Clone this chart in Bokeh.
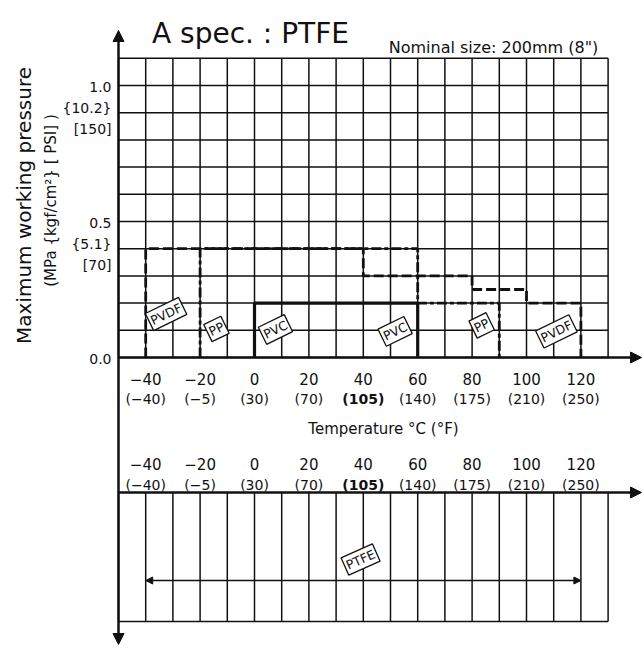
import math
from bokeh.plotting import figure
from bokeh.models import Range1d, Arrow, NormalHead
from bokeh.core.properties import value
from bokeh.embed import file_html
from bokeh.resources import INLINE

# ---------------- data ----------------
temps_c = [-40, -20, 0, 20, 40, 60, 80, 100, 120]
temps_c_labels = ["−40", "−20", "0", "20", "40", "60", "80", "100", "120"]
temps_f_labels = ["(−40)", "(−5)", "(30)", "(70)", "(105)", "(140)", "(175)", "(210)", "(250)"]
bold_f_label = "(105)"
grid_temps = [-50, -40, -30, -20, -10, 0, 10, 20, 30, 40, 50, 60, 70, 80, 90, 100, 110, 120, 130]
grid_press = [0.0, 0.1, 0.2, 0.3, 0.4, 0.5, 0.6, 0.7, 0.8, 0.9, 1.0, 1.1]
press_ticks = [0.0, 0.5, 1.0]
mpa_labels = ["0.0", "0.5", "1.0"]
kgf_labels = ["", "{5.1}", "{10.2}"]
psi_labels = ["", "[70]", "[150]"]

# step limits: breakpoints (°C) and max pressure (MPa) in each interval
pvdf_temps = [-40, 40, 80, 100, 120]
pvdf_press = [0.4, 0.3, 0.25, 0.2]
pp_temps = [-20, 60, 90]
pp_press = [0.4, 0.2]
pvc_temps = [0, 60]
pvc_press = [0.2]
ptfe_temps = [-40, 120]

mat_labels = ["PVDF", "PP", "PVC", "PVC", "PP", "PVDF"]

# ---------------- layout helpers ----------------
W, H = 644, 648
SX = 2.72      # px per °C
SY = 272.0     # px per MPa
X0 = -50 - 118 / SX
X1 = X0 + W / SX
Y1 = 357 / SY
Y0 = Y1 - H / SY


def py(page_y):
    return Y1 - page_y / SY


def pxx(page_x):
    return X0 + page_x / SX


FONT = value("DejaVu Sans")
BLACK = "#111111"

p = figure(width=W, height=H, x_range=Range1d(X0, X1), y_range=Range1d(Y0, Y1),
           x_axis_type=None, y_axis_type=None, output_backend="svg",
           toolbar_location=None, min_border=0)
p.outline_line_color = None
p.background_fill_color = "white"

# ---------------- top grid ----------------
gx0, gx1 = grid_temps[0], grid_temps[-1]
gy0, gy1 = grid_press[0], grid_press[-1]
p.segment(x0=grid_temps, y0=[gy0] * len(grid_temps), x1=grid_temps, y1=[gy1] * len(grid_temps),
          line_color=BLACK, line_width=1.5)
p.segment(x0=[gx0] * len(grid_press), y0=grid_press, x1=[gx1] * len(grid_press), y1=grid_press,
          line_color=BLACK, line_width=1.5)

# ---------------- bottom (PTFE) panel ----------------
panel_top = py(492)
panel_bot = py(621)
p.segment(x0=grid_temps, y0=[panel_bot] * len(grid_temps), x1=grid_temps, y1=[panel_top] * len(grid_temps),
          line_color=BLACK, line_width=1.5)
p.segment(x0=[gx0], y0=[panel_bot], x1=[gx1], y1=[panel_bot], line_color=BLACK, line_width=1.5)


# ---------------- series ----------------
def step_path(temps, press):
    xs, ys = [temps[0]], [0.0]
    for i, pv in enumerate(press):
        xs += [temps[i], temps[i + 1]]
        ys += [pv, pv]
    xs.append(temps[-1])
    ys.append(0.0)
    return xs, ys


x, y = step_path(pvc_temps, pvc_press)
p.line(x, y, line_color=BLACK, line_width=3.2)
x, y = step_path(pp_temps, pp_press)
p.line(x, y, line_color=BLACK, line_width=2.8, line_dash="10 3 4 3")
x, y = step_path(pvdf_temps, pvdf_press)
p.line(x, y, line_color=BLACK, line_width=2.8, line_dash="10 4")

# ---------------- axes ----------------
x_tip = pxx(641)
p.add_layout(Arrow(x_start=gx0, y_start=py(644), x_end=gx0, y_end=py(30),
                   start=NormalHead(size=11, fill_color=BLACK, line_color=BLACK),
                   end=NormalHead(size=11, fill_color=BLACK, line_color=BLACK),
                   line_color=BLACK, line_width=2.5))
p.add_layout(Arrow(x_start=gx0, y_start=0, x_end=x_tip, y_end=0,
                   end=NormalHead(size=11, fill_color=BLACK, line_color=BLACK),
                   line_color=BLACK, line_width=2.5))
p.add_layout(Arrow(x_start=gx0, y_start=panel_top, x_end=x_tip, y_end=panel_top,
                   end=NormalHead(size=11, fill_color=BLACK, line_color=BLACK),
                   line_color=BLACK, line_width=2.5))

# PTFE range arrow
ptfe_y = py(580)
p.add_layout(Arrow(x_start=ptfe_temps[0], y_start=ptfe_y, x_end=ptfe_temps[1], y_end=ptfe_y,
                   start=NormalHead(size=7, fill_color=BLACK, line_color=BLACK),
                   end=NormalHead(size=7, fill_color=BLACK, line_color=BLACK),
                   line_color=BLACK, line_width=1.5))

# ---------------- material labels ----------------
lab_x = [-32.5, -14, 7.7, 51.7, 83.5, 111]
lab_y = [0.16, 0.105, 0.103, 0.096, 0.118, 0.096]
ang = math.radians(26)
p.text(x=lab_x, y=lab_y, text=mat_labels, angle=ang, text_font=FONT, text_font_size="12.5px",
       text_align="center", text_baseline="middle", text_color=BLACK,
       border_line_color=BLACK, border_line_width=1.3, background_fill_color="white", padding=2)
p.text(x=[(ptfe_temps[0] + ptfe_temps[1]) / 2 - 1], y=[py(559)], text=["PTFE"], angle=math.radians(24),
       text_font=FONT, text_font_size="12.5px", text_align="center", text_baseline="middle",
       text_color=BLACK, border_line_color=BLACK, border_line_width=1.3,
       background_fill_color="white", padding=2)


# ---------------- tick labels ----------------
def temp_rows(base1, base2):
    p.text(x=temps_c, y=[py(base1)] * len(temps_c), text=temps_c_labels, text_font=FONT,
           text_font_size="15px", text_align="center", text_baseline="alphabetic", text_color=BLACK)
    normal = [(t, s) for t, s in zip(temps_c, temps_f_labels) if s != bold_f_label]
    bold = [(t, s) for t, s in zip(temps_c, temps_f_labels) if s == bold_f_label]
    p.text(x=[t for t, _ in normal], y=[py(base2)] * len(normal), text=[s for _, s in normal],
           text_font=FONT, text_font_size="14px", text_align="center", text_baseline="alphabetic",
           text_color=BLACK)
    p.text(x=[t for t, _ in bold], y=[py(base2)] * len(bold), text=[s for _, s in bold],
           text_font=FONT, text_font_size="14px", text_font_style="bold", text_align="center",
           text_baseline="alphabetic", text_color=BLACK)


temp_rows(378, 398)
temp_rows(463, 484)

p.text(x=[pxx(383)], y=[py(428)], text=["Temperature °C (°F)"], text_font=FONT, text_font_size="15px",
       text_align="center", text_baseline="alphabetic", text_color=BLACK)

# y tick labels (three unit rows)
ylab_x = pxx(111)
for rows, dy in ((mpa_labels, 0), (kgf_labels, 21), (psi_labels, 42)):
    ys, ts = [], []
    for v, t in zip(press_ticks, rows):
        if t:
            ys.append(v - (dy + 1) / SY)
            ts.append(t)
    p.text(x=[ylab_x] * len(ts), y=ys, text=ts, text_font=FONT, text_font_size="14px",
           text_align="right", text_baseline="middle", text_color=BLACK)

# y axis title
p.text(x=[pxx(23)], y=[py(205)], text=["Maximum working pressure"], angle=math.pi / 2,
       text_font=FONT, text_font_size="20px", text_align="center", text_baseline="alphabetic",
       text_color=BLACK)
p.text(x=[pxx(50)], y=[py(200)], text=["(MPa {kgf/cm²} [ PSI] )"], angle=math.pi / 2,
       text_font=FONT, text_font_size="15px", text_align="center", text_baseline="alphabetic",
       text_color=BLACK)

# titles
p.text(x=[pxx(250)], y=[py(33)], text=["A spec. : PTFE"], text_font=FONT, text_font_size="28px",
       text_align="center", text_baseline="alphabetic", text_color=BLACK)
p.text(x=[pxx(493)], y=[py(47)], text=["Nominal size: 200mm (8\")"], text_font=FONT,
       text_font_size="16px", text_align="center", text_baseline="alphabetic", text_color=BLACK)

open("out.html", "w").write(file_html(p, INLINE))
